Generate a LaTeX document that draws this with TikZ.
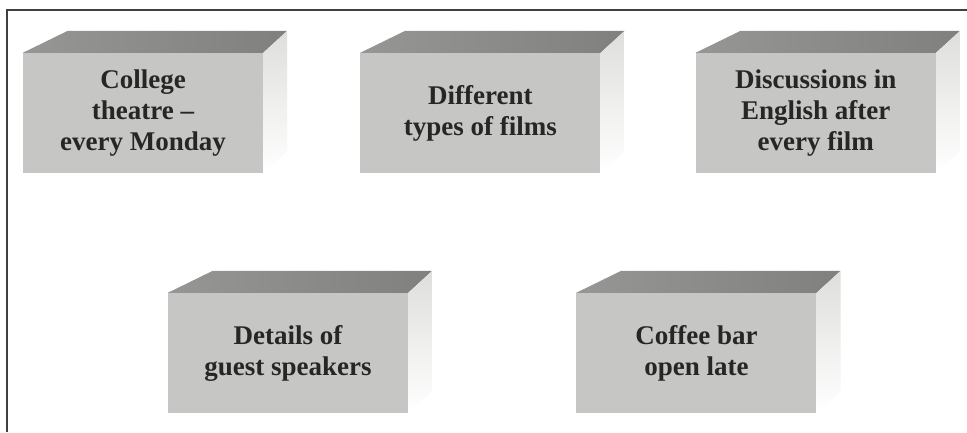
\documentclass[tikz,border=0pt]{standalone}
\usepackage{fontspec}
\setmainfont{Liberation Serif}
\usetikzlibrary{positioning}

\definecolor{frontgray}{RGB}{198,198,196}
\definecolor{topgray}{RGB}{150,150,148}
\definecolor{topdark}{RGB}{128,128,126}
\definecolor{sidegray}{RGB}{222,222,220}
\definecolor{inkgray}{RGB}{38,38,38}

\tikzset{
  brick/.style={rectangle, fill=frontgray, minimum width=240pt, minimum height=120pt,
    inner sep=0pt, align=center, text=inkgray,
    font=\bfseries\fontsize{27}{31}\selectfont},
}

\begin{document}
\begin{tikzpicture}[x=1pt, y=-1pt, node distance=97pt]
        \useasboundingbox (0,0) rectangle (967,432);
        \fill[white] (0,0) rectangle (967,432);
        \draw[line width=1.8pt, black!75] (7,432) -- (7,10) -- (967,10);

        \node[brick] (theatre) at (143,113) {College\\theatre --\\every Monday};
        \node[brick] (films) [right=of theatre] {Different\\types of films};
        \node[brick] (talks) [right=95pt of films] {Discussions in\\English after\\every film};
        \node[brick] (guests) at (288,353) {Details of\\guest speakers};
        \node[brick] (coffee) [right=168pt of guests] {Coffee bar\\open late};

        % top and side faces
        \foreach \b in {theatre, films, talks, guests, coffee} {
          \shade[left color=topgray, right color=topdark]
            (\b.north west) -- ++(45,-22) -- ([shift={(24,-22)}]\b.north east)
            -- (\b.north east) -- cycle;
          \shade[top color=sidegray, bottom color=white]
            (\b.north east) -- ([shift={(24,-22)}]\b.north east)
            -- ([shift={(24,-22)}]\b.south east) -- (\b.south east) -- cycle;
        }
    \end{tikzpicture}
\end{document}
